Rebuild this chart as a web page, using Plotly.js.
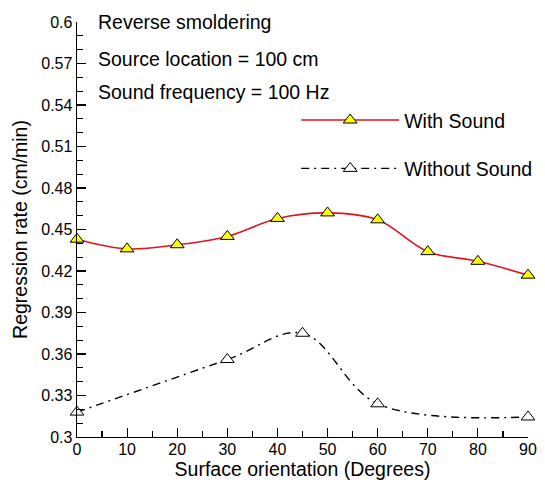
<!DOCTYPE html>
<html>
<head>
<meta charset="utf-8">
<script src="https://cdn.plot.ly/plotly-3.0.1.min.js"></script>
<style>html,body{margin:0;padding:0;background:#fff;}#chart{width:545px;height:483px;}</style>
</head>
<body>
<div id="chart"></div>
<script>
// Data
var withX = [0, 10, 20, 30, 40, 50, 60, 70, 80, 90];
var withY = [0.443, 0.436, 0.439, 0.445, 0.458, 0.462, 0.457, 0.434, 0.427, 0.417];
var withoutX = [0, 30, 45, 60, 90];
var withoutY = [0.318, 0.356, 0.375, 0.324, 0.3145];
var yTicks = [0.3, 0.33, 0.36, 0.39, 0.42, 0.45, 0.48, 0.51, 0.54, 0.57, 0.6];
var yTickText = ['0.3', '0.33', '0.36', '0.39', '0.42', '0.45', '0.48', '0.51', '0.54', '0.57', '0.6'];
var xTicks = [0, 10, 20, 30, 40, 50, 60, 70, 80, 90];
var notes = ['Reverse smoldering', 'Source location = 100 cm', 'Sound frequency = 100 Hz'];
var names = ['With Sound', 'Without Sound'];

var FONT = 'Liberation Sans, Arial, sans-serif';

var traces = [
  {
    x: withX, y: withY, name: names[0], type: 'scatter', mode: 'lines+markers',
    line: {color: '#e0141c', width: 1.6, shape: 'spline', smoothing: 1},
    marker: {symbol: 'triangle-up', size: 12, color: '#ffff00', line: {color: '#000', width: 1}},
    cliponaxis: false, legendgroup: 'a'
  },
  {
    x: withoutX, y: withoutY, name: names[1], type: 'scatter', mode: 'lines+markers',
    line: {color: '#000', width: 1.4, shape: 'spline', smoothing: 1, dash: '8px,5px,2px,5px'},
    marker: {symbol: 'triangle-up', size: 12, color: '#ffffff', line: {color: '#000', width: 1}},
    cliponaxis: false, legendgroup: 'b'
  }
];

var annYs = [1.0, 0.911, 0.831];
var annotations = notes.map(function (t, i) {
  return {text: t, xref: 'paper', yref: 'paper', x: 0.042, y: annYs[i],
    xanchor: 'left', yanchor: 'middle', showarrow: false,
    font: {family: FONT, size: 19.5, color: '#000'}};
});

var layout = {
  width: 545, height: 483,
  margin: {l: 77, r: 8, t: 22, b: 46},
  paper_bgcolor: '#fff', plot_bgcolor: '#fff',
  font: {family: FONT, size: 16, color: '#000'},
  showlegend: true,
  legend: {x: 0.486, y: 0.81, xanchor: 'left', yanchor: 'top', bgcolor: 'rgba(0,0,0,0)',
    font: {family: FONT, size: 19.5, color: '#000'}, tracegroupgap: 20, itemwidth: 98,
    traceorder: 'grouped'},
  xaxis: {
    range: [0, 90], tickvals: xTicks, ticks: 'inside', ticklen: 9, tickwidth: 1.2,
    tickcolor: '#000', showline: true, linecolor: '#000', linewidth: 1.4, mirror: false,
    showgrid: false, zeroline: false, ticklabeloverflow: 'allow', ticklabelstandoff: -3,
    minor: {dtick: 5, ticks: 'inside', ticklen: 6, tickcolor: '#000', tickwidth: 1.2, showgrid: false},
    tickfont: {family: FONT, size: 16, color: '#000'},
    title: {text: 'Surface orientation (Degrees)', font: {family: FONT, size: 19.5, color: '#000'}, standoff: 5}
  },
  yaxis: {
    range: [0.3, 0.6], tickvals: yTicks, ticktext: yTickText, ticks: 'inside', ticklen: 9, tickwidth: 1.2,
    tickcolor: '#000', showline: true, linecolor: '#000', linewidth: 1.4, mirror: false,
    showgrid: false, zeroline: false,
    minor: {dtick: 0.01, tick0: 0.3, ticks: 'inside', ticklen: 6, tickcolor: '#000', tickwidth: 1.2, showgrid: false},
    tickfont: {family: FONT, size: 16, color: '#000'},
    title: {text: 'Regression rate (cm/min)', font: {family: FONT, size: 19.5, color: '#000'}, standoff: 8}
  },
  annotations: annotations
};

Plotly.newPlot('chart', traces, layout, {displayModeBar: false, staticPlot: true});
</script>
</body>
</html>
